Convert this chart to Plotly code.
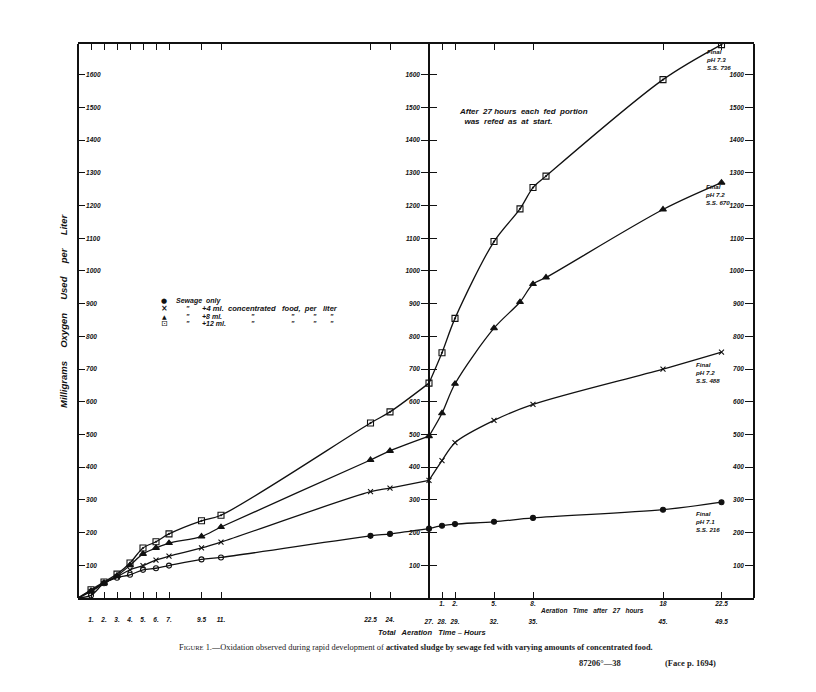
import plotly.graph_objects as go

# ---------------- data ----------------
hours_left = [1, 2, 3, 4, 5, 6, 7, 9.5, 11, 22.5, 24, 27]
sewage_left = [8, 45, 62, 71, 86, 91, 99, 118, 124, 190, 196, 212]
food4_left = [20, 45, 65, 86, 99, 116, 128, 153, 171, 325, 336, 360]
food8_left = [22, 46, 68, 100, 135, 153, 168, 188, 217, 422, 450, 495]
food12_left = [25, 49, 73, 107, 153, 172, 196, 236, 253, 535, 569, 657]

hours_right_a = [27, 28, 29, 32, 35, 45, 49.5]
sewage_right = [212, 221, 226, 233, 245, 270, 293]
food4_right = [360, 420, 475, 543, 592, 700, 752]

hours_right_b = [27, 28, 29, 32, 34, 35, 36, 45, 49.5]
food8_right = [495, 565, 655, 825, 905, 960, 980, 1188, 1270]
food12_right = [657, 750, 855, 1090, 1190, 1255, 1290, 1585, 1692]

y_ticks = [100, 200, 300, 400, 500, 600, 700, 800, 900, 1000, 1100, 1200, 1300, 1400, 1500, 1600]
x_ticks_all = [1, 2, 3, 4, 5, 6, 7, 9.5, 11, 22.5, 24, 27, 28, 29, 32, 35, 45, 49.5]
x_ticks_first = [1, 2, 3, 4, 5, 6, 7, 9.5, 11, 22.5, 24]
x_labels_first = ["1.", "2.", "3.", "4.", "5.", "6.", "7.", "9.5", "11.", "22.5", "24."]
x_ticks_second = [27, 28, 29, 32, 35, 45, 49.5]
x_labels_second = ["27.", "28.", "29.", "32.", "35.", "45.", "49.5"]
x_ticks_after = [28, 29, 32, 35, 45, 49.5]
x_labels_after = ["1.", "2.", "5.", "8.", "18", "22.5"]

final_labels = ["Final<br>pH 7.3<br>S.S. 736", "Final<br>pH 7.2<br>S.S. 670",
                "Final<br>pH 7.2<br>S.S. 488", "Final<br>pH 7.1<br>S.S. 216"]

# ---------------- style ----------------
INK = "#111111"
LW = 1.3
LFONT = dict(family="Liberation Sans", size=7, color=INK, weight="bold", style="italic")
X_MAX = 52
Y_MAX = 1694
# plot area in screenshot pixels (page has an 8px body margin)
L, R, T, B = 78, 754, 44, 598
OFF = 8


def px(x):
    return (x - L) / (R - L)


def py(y):
    return (B - y) / (B - T)


fig = go.Figure()


def line(xs, ys, xa="x", ya="y"):
    fig.add_trace(go.Scatter(x=xs, y=ys, mode="lines", xaxis=xa, yaxis=ya,
                             line=dict(color=INK, width=LW, shape="spline", smoothing=0.9),
                             hoverinfo="skip"))


def marks(xs, ys, symbol, size, xa="x", ya="y"):
    fig.add_trace(go.Scatter(x=xs, y=ys, mode="markers", xaxis=xa, yaxis=ya,
                             marker=dict(symbol=symbol, size=size, color=INK,
                                         line=dict(color=INK, width=1.1))))


# left panel curves start at the origin
line([0] + hours_left, [0] + sewage_left)
line([0] + hours_left, [0] + food4_left)
line([0] + hours_left, [0] + food8_left)
line([0] + hours_left, [0] + food12_left)
# right panel curves (refed at 27 h)
line(hours_right_a, sewage_right, ya="y2")
line(hours_right_a, food4_right, ya="y3")
line(hours_right_b, food8_right, ya="y4")
line(hours_right_b, food12_right)

circle_syms = ["circle-open" if h <= 11 else "circle" for h in hours_left]
marks(hours_left, sewage_left, circle_syms, 5, xa="x3")
marks(hours_left, food4_left, "x-thin-open", 5)
marks(hours_left, food8_left, "triangle-up", 6)
marks(hours_left, food12_left, "square-open-dot", 6)
marks(hours_right_a[1:], sewage_right[1:], "circle", 5, xa="x2")
marks(hours_right_a[1:], food4_right[1:], "x-thin-open", 5, xa="x2")
marks(hours_right_b[1:], food8_right[1:], "triangle-up", 6, xa="x2")
marks(hours_right_b[1:], food12_right[1:], "square-open-dot", 6, xa="x2")

tickfont = dict(family="Liberation Sans", size=6.5, color=INK, weight="bold", style="italic")
common_y = dict(range=[0, Y_MAX], tickvals=y_ticks, showgrid=False, zeroline=False,
                tickfont=tickfont, tickcolor=INK, tickwidth=1.2, linecolor=INK, fixedrange=True)
common_x = dict(range=[0, X_MAX], showgrid=False, zeroline=False, tickfont=tickfont,
                fixedrange=True)

fig.update_layout(
    width=800, height=676,
    margin=dict(l=L - OFF, r=800 - (R - OFF), t=T - OFF, b=676 - (B - OFF)),
    paper_bgcolor="white", plot_bgcolor="white", showlegend=False,
    xaxis=dict(**common_x, tickvals=x_ticks_all,
               ticktext=[""] * 11 + x_labels_second,
               ticks="inside", ticklen=6, tickwidth=1.2, tickcolor=INK,
               showline=True, linecolor=INK, linewidth=1.6, mirror="ticks",
               ticklabelstandoff=16),
    xaxis2=dict(**common_x, overlaying="x", anchor="y", side="bottom",
                tickvals=x_ticks_after, ticktext=x_labels_after, ticks="",
                showline=False, ticklabelstandoff=0),
    xaxis3=dict(**common_x, overlaying="x", anchor="y", side="bottom",
                tickvals=x_ticks_first, ticktext=x_labels_first, ticks="",
                showline=False, ticklabelstandoff=16),
    # left frame axis: labels sit to the right of the line (inside the frame)
    yaxis=dict(**common_y, anchor="free", position=0, side="right",
               ticks="outside", ticklen=6, showline=True, linewidth=1.6),
    # middle axis at 27 hours: ticks cross the line
    yaxis2=dict(**common_y, overlaying="y", anchor="free", position=27 / X_MAX, side="left",
                ticks="outside", ticklen=7, showline=True, linewidth=1.6),
    yaxis3=dict(**common_y, overlaying="y", anchor="free", position=27 / X_MAX, side="right",
                ticks="outside", ticklen=7, showticklabels=False, showline=False),
    # right frame axis: labels to the left of the line
    yaxis4=dict(**common_y, overlaying="y", anchor="free", position=1, side="left",
                ticks="outside", ticklen=8, showline=True, linewidth=1.6),
)

ann = []


def txt(text, x, y, size=7, xanchor="center", yanchor="middle", font=None, angle=0, align="left"):
    f = dict(LFONT)
    f["size"] = size
    if font:
        f.update(font)
    ann.append(dict(text=text, x=px(x), y=py(y), xref="paper", yref="paper",
                    showarrow=False, xanchor=xanchor, yanchor=yanchor, font=f,
                    textangle=angle, align=align))


# legend (hand-lettered key)
rows = [301, 308.5, 316, 323.5]
sym = dict(family="DejaVu Sans", style="normal")
txt("●", 164, rows[0], size=7, font=sym)
txt("×", 164, rows[1], size=8, font=sym)
txt("▲", 164, rows[2], size=6, font=sym)
txt("⊡", 164, rows[3], size=8, font=dict(sym, weight="normal"))
txt("Sewage  only", 174, rows[0], xanchor="left")
for r in rows[1:]:
    txt("\"", 188, r)
txt("+4 ml.  concentrated   food,  per   liter", 200, rows[1], size=7.6, xanchor="left")
txt("+8 ml.", 200, rows[2], xanchor="left")
txt("+12 ml.", 200, rows[3], xanchor="left")
for r in rows[2:]:
    for xx in [253, 293, 315, 332]:
        txt("\"", xx, r)

# note
txt("After  27 hours  each  fed  portion<br>  was  refed  as  at  start.", 457, 105,
    size=8, xanchor="left", yanchor="top")

# final labels
txt(final_labels[0], 704, 46, size=6.2, xanchor="left", yanchor="top")
txt(final_labels[1], 703, 181, size=6.2, xanchor="left", yanchor="top")
txt(final_labels[2], 693, 359, size=6.2, xanchor="left", yanchor="top")
txt(final_labels[3], 693, 508, size=6.2, xanchor="left", yanchor="top")

# axis titles
txt("Milligrams     Oxygen     Used     per     Liter", 63, 311, size=9.5, angle=-90)
txt("Aeration   Time   after   27   hours", 592, 611, size=6.5)
txt("Total   Aeration   Time – Hours", 432, 632, size=7.5)

# caption
serif = dict(family="Liberation Serif", style="normal", weight="normal", color="#222222")
txt("F<span style='font-size:6.5px'>IGURE</span> 1.—Oxidation observed during rapid development of "
    "<b>activated sludge by sewage fed with varying amounts of concentrated food.</b>",
    416, 647, size=8.4, font=serif)
txt("<b>87206°—38</b>", 600, 663, size=8.5, font=serif)
txt("<b>(Face p. 1694)</b>", 690, 663, size=8.5, font=serif)

fig.update_layout(annotations=ann)
fig.write_html("out.html")
